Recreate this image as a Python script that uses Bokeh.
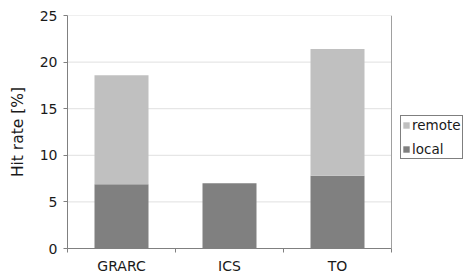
from bokeh.plotting import figure
from bokeh.models import ColumnDataSource, FixedTicker, Legend, LegendItem, Range1d
from bokeh.embed import file_html
from bokeh.resources import INLINE

categories = ["GRARC", "ICS", "TO"]
local = [6.9, 7.0, 7.8]
remote = [11.7, 0.0, 13.6]
y_ticks = [0, 5, 10, 15, 20, 25]

n = len(categories)
xs = [i + 0.5 for i in range(n)]
src = ColumnDataSource(dict(x=xs, local=local, remote=remote))

PLOT_W = 324     # width of the data area in px
EXTRA_W = 75     # room for the legend, right of the data area
p = figure(frame_width=PLOT_W + EXTRA_W, frame_height=233, output_backend="svg",
           toolbar_location=None,
           x_range=Range1d(0, n * (PLOT_W + EXTRA_W) / PLOT_W), y_range=Range1d(0, 25),
           min_border_left=67, min_border_top=15, min_border_bottom=25, min_border_right=0)
p.outline_line_color = None
p.xgrid.grid_line_color = None
p.ygrid.grid_line_color = None

# horizontal grid lines limited to the data area
p.segment(x0=0, x1=n, y0=y_ticks, y1=y_ticks, line_color="#e0e0e0", line_width=1)

r = p.vbar_stack(["local", "remote"], x="x", width=0.5, source=src,
                 color=["#808080", "#c0c0c0"], line_color=None)

# right border of data area
p.segment(x0=[n], x1=[n], y0=[y_ticks[0]], y1=[y_ticks[-1]], line_color="#a0a0a0", line_width=1)

FONT = "DejaVu Sans"
TXT = "#1a1a1a"
p.yaxis.ticker = FixedTicker(ticks=y_ticks)
p.yaxis.axis_label = "Hit rate [%]"
p.yaxis.axis_label_text_font = FONT
p.yaxis.axis_label_text_font_size = "15.5px"
p.yaxis.axis_label_text_font_style = "normal"
p.yaxis.axis_label_text_color = TXT
p.yaxis.axis_label_standoff = 10
p.yaxis.major_label_text_font = FONT
p.yaxis.major_label_text_font_size = "14px"
p.yaxis.major_label_text_color = TXT
p.yaxis.major_tick_out = 4
p.yaxis.major_tick_in = 0
p.yaxis.minor_tick_line_color = None
p.yaxis.axis_line_color = "#808080"
p.yaxis.major_tick_line_color = "#808080"
p.yaxis.major_label_standoff = 6

p.xaxis.ticker = FixedTicker(ticks=xs, minor_ticks=list(range(n + 1)))
p.xaxis.bounds = (0, n)
p.xaxis.major_label_overrides = {x: c for x, c in zip(xs, categories)}
p.xaxis.major_label_text_font = FONT
p.xaxis.major_label_text_font_size = "14px"
p.xaxis.major_label_text_color = TXT
p.xaxis.major_tick_line_color = None
p.xaxis.major_tick_out = 4
p.xaxis.major_label_standoff = 5
p.xaxis.minor_tick_out = 4
p.xaxis.minor_tick_in = 0
p.xaxis.minor_tick_line_color = "#808080"
p.xaxis.axis_line_color = "#808080"

legend = Legend(items=[LegendItem(label="remote", renderers=[r[1]]),
                       LegendItem(label="local", renderers=[r[0]])],
                location=(PLOT_W + 9, 89))
legend.label_text_font = FONT
legend.label_text_font_size = "13.5px"
legend.label_text_color = TXT
legend.glyph_width = 8
legend.glyph_height = 8
legend.label_standoff = 2
legend.spacing = 8
legend.padding = 1
legend.margin = 0
legend.border_line_color = "#000000"
legend.border_line_width = 1
legend.background_fill_alpha = 1
legend.label_height = 16
p.add_layout(legend)

open("out.html", "w").write(file_html(p, INLINE))
